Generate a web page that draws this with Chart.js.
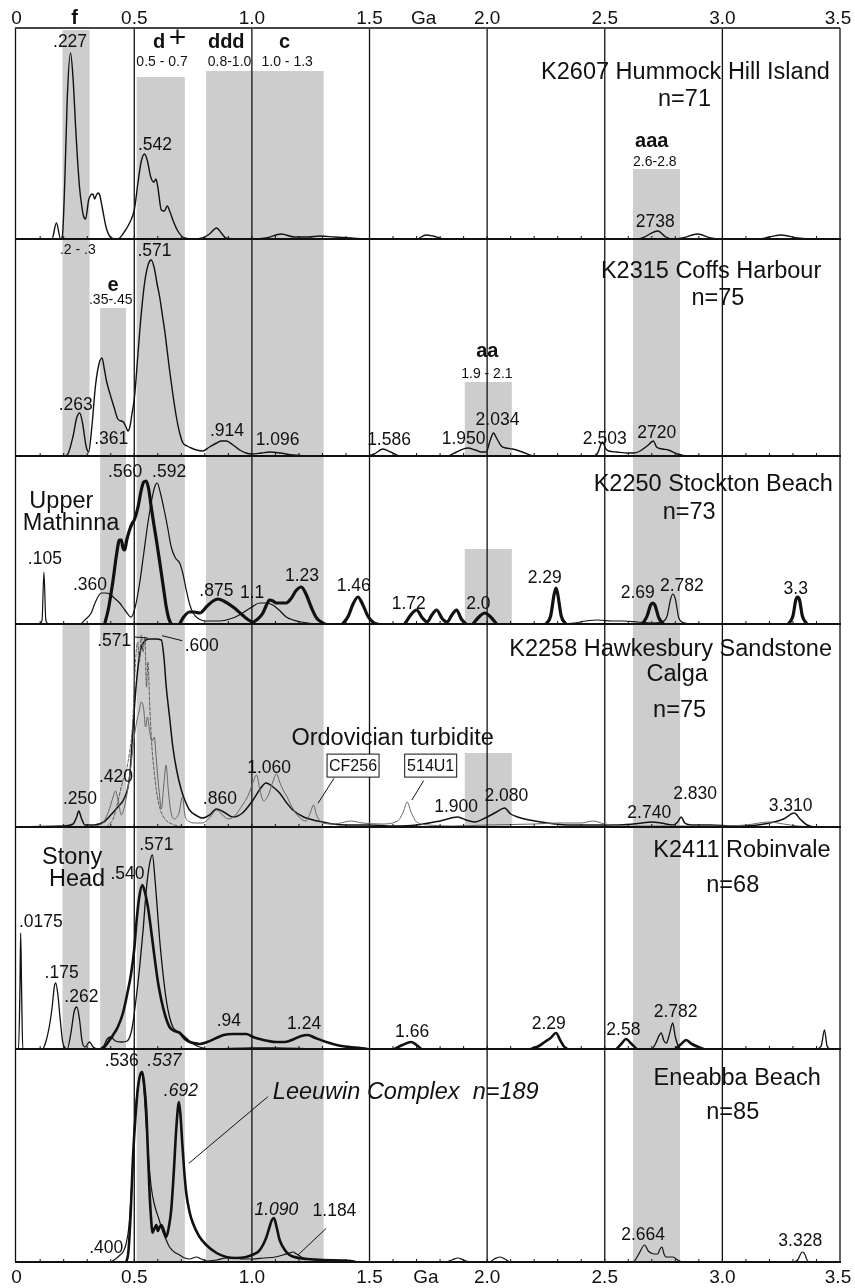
<!DOCTYPE html>
<html>
<head>
<meta charset="utf-8">
<script src="https://cdn.jsdelivr.net/npm/chart.js@4.4.1/dist/chart.umd.min.js"></script>
<style>
  html, body { margin: 0; padding: 0; background: #fff; }
  #wrap { width: 855px; height: 1288px; position: relative; }
</style>
</head>
<body>
<div id="wrap"><canvas id="agePlot" width="855" height="1288"></canvas></div>
<script>
// Age axis (Ga)
const ageTicks = [0, 0.5, 1.0, 1.5, 2.0, 2.5, 3.0, 3.5];
const ageTickLabels = ['0', '0.5', '1.0', '1.5', '2.0', '2.5', '3.0', '3.5'];
const ageUnit = 'Ga';

// Age groups (Ga) shown as grey bands
const bandRanges = {
    f: [0.195, 0.31],
    e: [0.355, 0.465],
    dPlus: [0.51, 0.715],
    ddd: [0.805, 1.0],
    c: [1.0, 1.305],
    aa: [1.905, 2.105],
    aaa: [2.62, 2.82]
};

// Probability curves, [age Ga, relative probability], null = break in line
const hummockHill = [[0,0],[0.15,0],[0.169,16],[0.187,0],[0.194,2],[0.205,60],[0.215,140],[0.229,186],[0.24,160],[0.25,115],[0.258,82],[0.268,50],[0.275,36],[0.283,24],[0.293,20],[0.306,39],[0.315,44],[0.324,45],[0.332,40],[0.339,44],[0.347,46],[0.353,44],[0.365,30],[0.38,12],[0.398,2],[0.42,0],[0.438,1],[0.46,8],[0.48,16],[0.5,29],[0.515,55],[0.53,78],[0.544,85],[0.556,78],[0.57,62],[0.584,57],[0.592,60],[0.60,52],[0.615,29],[0.628,28],[0.64,33],[0.652,27],[0.664,19],[0.685,8],[0.714,1],[0.75,0],[0.79,1],[0.82,5],[0.85,11],[0.87,6],[0.89,1],[0.95,0],[1.0,0],[1.06,1],[1.125,5],[1.18,2],[1.24,2],[1.29,3],[1.35,2],[1.42,1],[1.5,0],[1.7,0],[1.74,4],[1.77,3],[1.82,0],[2.64,0],[2.66,1],[2.725,8],[2.76,2],[2.79,0],[2.83,1],[2.895,5],[2.95,1],[2.99,0],[3.15,0],[3.2,2],[3.25,4],[3.32,1],[3.38,0],[3.5,0]];

const coffsHarbour = [[0,0],[0.2,0],[0.215,1],[0.24,20],[0.255,38],[0.268,43],[0.28,33],[0.295,10],[0.306,4],[0.32,30],[0.335,70],[0.35,92],[0.363,98],[0.372,88],[0.381,76],[0.392,66],[0.402,58],[0.415,48],[0.43,37],[0.445,35],[0.454,34],[0.465,29],[0.473,25],[0.482,30],[0.49,42],[0.501,59],[0.515,100],[0.53,143],[0.545,175],[0.56,192],[0.572,196],[0.585,188],[0.597,172],[0.608,159],[0.62,140],[0.629,126],[0.64,105],[0.65,86],[0.665,60],[0.679,39],[0.693,23],[0.707,13],[0.725,10],[0.742,8],[0.765,6],[0.79,5],[0.82,9],[0.85,13],[0.87,15],[0.891,15],[0.92,11],[0.948,6],[0.975,3],[1.0,2],[1.04,3],[1.075,4],[1.12,3],[1.175,1],[1.25,0],[1.49,0],[1.52,2],[1.556,7],[1.59,4],[1.63,0],[1.83,0],[1.87,4],[1.917,8],[1.95,6],[1.975,4],[1.996,4],[2.012,15],[2.027,23],[2.04,18],[2.06,10],[2.08,8],[2.108,7],[2.15,4],[2.2,0],[2.45,0],[2.47,3],[2.49,14],[2.505,7],[2.517,5],[2.55,4],[2.6,3],[2.626,3],[2.65,5],[2.68,10],[2.707,15],[2.72,9],[2.745,7],[2.77,6],[2.81,2],[2.85,0],[3.5,0]];

const stocktonBeach = [[0,0],[0.095,0],[0.108,4],[0.116,52],[0.124,4],[0.135,0],[0.27,0],[0.29,4],[0.317,11],[0.335,22],[0.36,31],[0.38,31],[0.395,30],[0.415,26],[0.438,21],[0.46,14],[0.487,7],[0.505,18],[0.523,41],[0.54,70],[0.558,101],[0.575,125],[0.588,138],[0.598,141],[0.61,132],[0.629,112],[0.643,95],[0.657,77],[0.675,66],[0.693,61],[0.707,50],[0.721,34],[0.735,20],[0.75,11],[0.775,5],[0.806,3],[0.86,3],[0.919,6],[0.96,11],[1.0,17],[1.033,21],[1.06,21],[1.089,19],[1.12,13],[1.146,7],[1.21,2],[1.3,0],[2.3,0],[2.37,1],[2.42,3],[2.47,4],[2.53,3],[2.58,3],[2.64,2],[2.7,1],[2.74,2],[2.765,8],[2.78,25],[2.79,30],[2.8,25],[2.815,6],[2.84,1],[2.88,0],[3.5,0]];

const upperMathinna = [[0.374,0],[0.39,15],[0.41,44],[0.425,70],[0.437,84],[0.445,84],[0.452,76],[0.459,74],[0.468,84],[0.48,94],[0.49,100],[0.50,104],[0.516,117],[0.528,132],[0.54,142],[0.551,143],[0.562,134],[0.572,117],[0.583,100],[0.594,84],[0.605,67],[0.615,51],[0.626,33],[0.636,17],[0.646,6],[0.657,0], null,
    [0.693,0],[0.71,7],[0.735,12],[0.755,12],[0.778,11],[0.81,18],[0.835,23],[0.856,25],[0.88,23],[0.92,17],[0.955,10],[0.98,5],[1.005,2],[1.025,5],[1.047,11],[1.062,19],[1.075,24],[1.09,23],[1.104,21],[1.125,21],[1.146,21],[1.165,25],[1.19,34],[1.21,37],[1.23,30],[1.252,17],[1.275,6],[1.302,1],[1.31,0], null,
    [1.386,0],[1.41,8],[1.43,20],[1.451,27],[1.47,20],[1.495,7],[1.52,1],[1.535,0], null,
    [1.65,0],[1.675,9],[1.70,14],[1.725,6],[1.745,2],[1.765,9],[1.785,14],[1.81,5],[1.83,2],[1.85,9],[1.87,14],[1.89,5],[1.91,0], null,
    [1.94,0],[1.965,7],[1.99,11],[2.015,7],[2.04,0], null,
    [2.25,0],[2.27,8],[2.285,30],[2.293,36],[2.30,30],[2.315,8],[2.335,0], null,
    [2.66,0],[2.68,8],[2.695,19],[2.704,21],[2.713,19],[2.73,6],[2.75,0], null,
    [3.28,0],[3.30,8],[3.312,24],[3.32,27],[3.328,24],[3.34,8],[3.36,0]];

const hawkesbury = [[0,0],[0.2,1],[0.24,3],[0.255,10],[0.264,16],[0.275,9],[0.29,2],[0.33,2],[0.37,5],[0.40,12],[0.43,20],[0.46,30],[0.48,50],[0.495,100],[0.509,144],[0.525,175],[0.545,186],[0.565,188],[0.59,188],[0.615,187],[0.626,170],[0.636,140],[0.65,110],[0.664,80],[0.68,57],[0.70,37],[0.718,25],[0.735,17],[0.76,12],[0.79,9],[0.82,12],[0.849,18],[0.88,15],[0.919,10],[0.96,14],[1.005,27],[1.035,38],[1.06,44],[1.09,40],[1.118,34],[1.145,25],[1.174,17],[1.22,10],[1.26,7],[1.3,5],[1.345,3],[1.4,2],[1.5,2],[1.6,1],[1.7,2],[1.8,6],[1.875,10],[1.91,7],[1.946,5],[2.0,10],[2.04,15],[2.074,19],[2.1,13],[2.13,10],[2.18,7],[2.23,5],[2.29,3],[2.34,2],[2.45,2],[2.55,2],[2.62,3],[2.66,4],[2.697,5],[2.74,4],[2.79,2],[2.81,5],[2.825,10],[2.84,4],[2.87,2],[2.95,2],[3.05,1],[3.15,2],[3.22,5],[3.26,8],[3.306,14],[3.33,8],[3.36,2],[3.4,0],[3.5,0]];

const ordovicianTurbidite = [[0.30,0],[0.36,3],[0.39,15],[0.41,30],[0.42,36],[0.432,26],[0.445,12],[0.46,22],[0.475,42],[0.49,70],[0.50,90],[0.51,105],[0.52,115],[0.53,125],[0.54,118],[0.548,100],[0.556,110],[0.565,96],[0.575,86],[0.585,90],[0.593,70],[0.60,50],[0.608,30],[0.615,18],[0.625,40],[0.635,62],[0.645,36],[0.655,16],[0.67,8],[0.69,14],[0.705,30],[0.715,12],[0.73,6],[0.76,4],[0.79,4],[0.82,9],[0.85,17],[0.875,12],[0.9,8],[0.93,12],[0.96,22],[0.985,32],[1.005,45],[1.02,52],[1.035,36],[1.05,26],[1.07,32],[1.09,46],[1.105,53],[1.118,45],[1.135,36],[1.15,30],[1.17,20],[1.2,10],[1.23,6],[1.248,14],[1.262,22],[1.275,12],[1.3,4],[1.35,3],[1.42,6],[1.47,4],[1.55,3],[1.62,6],[1.645,16],[1.66,25],[1.675,16],[1.70,5],[1.75,2],[1.85,1],[2.0,2],[2.2,3],[2.3,4],[2.4,4],[2.45,6],[2.5,3],[2.6,1],[2.8,1],[3.0,1],[3.1,2],[3.2,5],[3.26,3],[3.32,1],[3.4,0]];

const ordovicianSpike = [[0.38,0],[0.41,8],[0.43,25],[0.45,45],[0.465,55],[0.48,75],[0.492,100],[0.50,140],[0.508,175],[0.515,185],[0.522,165],[0.53,192],[0.537,175],[0.545,190],[0.552,140],[0.558,165],[0.566,120],[0.575,80],[0.585,55],[0.595,35],[0.61,18],[0.63,8],[0.66,3],[0.70,0]];

const robinvale = [[0,0],[0.008,0],[0.014,60],[0.017,116],[0.021,60],[0.026,0],[0.11,0],[0.125,8],[0.14,24],[0.15,40],[0.16,62],[0.166,66],[0.175,55],[0.185,30],[0.195,8],[0.205,1],[0.215,0],[0.23,15],[0.245,38],[0.256,42],[0.267,30],[0.278,8],[0.29,2],[0.31,7],[0.325,2],[0.345,0],[0.37,3],[0.385,10],[0.40,12],[0.42,8],[0.445,7],[0.47,8],[0.49,20],[0.505,45],[0.523,82],[0.538,120],[0.551,159],[0.565,185],[0.577,194],[0.588,170],[0.598,140],[0.608,109],[0.62,80],[0.636,49],[0.65,32],[0.664,22],[0.68,18],[0.693,17],[0.707,14],[0.721,11],[0.75,5],[0.778,2],[0.82,0],[1.0,1],[1.1,1],[1.3,0],[2.7,0],[2.715,5],[2.74,16],[2.752,8],[2.762,6],[2.775,15],[2.789,26],[2.80,12],[2.815,2],[2.83,0],[3.4,0],[3.42,3],[3.434,19],[3.445,3],[3.46,0],[3.5,0]];

const stonyHead = [[0.366,0],[0.38,4],[0.395,9],[0.41,14],[0.43,22],[0.452,36],[0.47,55],[0.487,76],[0.50,100],[0.509,126],[0.52,150],[0.534,164],[0.545,157],[0.558,142],[0.572,118],[0.586,92],[0.60,68],[0.615,49],[0.632,33],[0.65,22],[0.67,18],[0.693,16],[0.715,10],[0.735,7],[0.755,6],[0.778,5],[0.81,7],[0.849,11],[0.88,14],[0.919,15],[0.95,15],[0.976,15],[1.005,12],[1.033,10],[1.07,8],[1.104,7],[1.14,7],[1.18,10],[1.21,13],[1.238,14],[1.27,11],[1.316,7],[1.36,4],[1.415,2],[1.46,1],[1.49,0], null,
    [1.606,0],[1.64,4],[1.677,7],[1.70,4],[1.72,0], null,
    [2.187,0],[2.22,3],[2.245,7],[2.27,11],[2.293,16],[2.31,9],[2.325,3],[2.34,0], null,
    [2.55,0],[2.57,5],[2.591,10],[2.61,6],[2.635,0], null,
    [2.80,0],[2.825,5],[2.846,9],[2.87,5],[2.92,0]];

const eneabba = [[0,0],[0.395,0],[0.42,3],[0.44,7],[0.452,10],[0.465,18],[0.477,35],[0.487,69],[0.495,105],[0.50,135],[0.51,165],[0.52,183],[0.53,190],[0.54,175],[0.551,135],[0.562,100],[0.572,75],[0.585,58],[0.606,42],[0.62,31],[0.636,22],[0.65,15],[0.67,10],[0.693,7],[0.715,4],[0.735,3],[0.764,5],[0.785,3],[0.807,1],[0.85,2],[0.891,4],[0.93,4],[0.96,3],[1.0,3],[1.05,4],[1.1,5],[1.132,7],[1.16,9],[1.174,10],[1.19,8],[1.21,5],[1.231,3],[1.27,2],[1.305,1],[1.4,0],[1.82,0],[1.85,2],[1.876,4],[1.90,2],[1.93,0],[2.01,0],[2.03,3],[2.053,5],[2.075,3],[2.1,0],[2.61,0],[2.626,1],[2.645,8],[2.669,17],[2.685,11],[2.697,9],[2.71,8],[2.725,8],[2.735,13],[2.743,15],[2.752,8],[2.76,5],[2.775,5],[2.79,5],[2.81,2],[2.83,0],[3.3,0],[3.32,2],[3.335,9],[3.342,10],[3.35,8],[3.36,2],[3.37,0],[3.5,0]];

const leeuwin = [[0.466,0],[0.475,10],[0.485,50],[0.494,102],[0.505,145],[0.516,175],[0.525,187],[0.534,190],[0.542,178],[0.551,152],[0.558,110],[0.565,69],[0.571,45],[0.577,29],[0.585,33],[0.594,37],[0.60,31],[0.608,35],[0.615,37],[0.625,32],[0.636,25],[0.647,35],[0.657,52],[0.668,90],[0.679,135],[0.69,160],[0.697,145],[0.704,119],[0.712,92],[0.721,69],[0.735,50],[0.749,39],[0.775,26],[0.806,17],[0.85,9],[0.891,5],[0.93,4],[0.976,5],[1.01,8],[1.03,11],[1.047,17],[1.062,25],[1.075,35],[1.085,42],[1.094,44],[1.105,35],[1.118,22],[1.14,12],[1.16,7],[1.2,4],[1.235,3],[1.3,2],[1.42,1],[1.44,0]];

// ---- layout / style ----
const FONT = '"Liberation Sans", Arial, Helvetica, sans-serif';
const panelHeights = [211, 217, 168, 203, 222, 213];

const series = [
    { data: hummockHill, panel: 1, width: 1.4 },
    { data: coffsHarbour, panel: 2, width: 1.4 },
    { data: stocktonBeach, panel: 3, width: 1.2 },
    { data: upperMathinna, panel: 3, width: 3.2 },
    { data: ordovicianTurbidite, panel: 4, width: 1, color: '#666' },
    { data: ordovicianSpike, panel: 4, width: 1, color: '#555', dash: [3, 2] },
    { data: hawkesbury, panel: 4, width: 1.5 },
    { data: robinvale, panel: 5, width: 1.3 },
    { data: stonyHead, panel: 5, width: 2.6 },
    { data: eneabba, panel: 6, width: 1.2 },
    { data: leeuwin, panel: 6, width: 2.6 }
];

// grey bands per panel: [group, top] (no top = full height)
const bandsByPanel = [
    [['f', 209], ['dPlus', 162], ['ddd', 168], ['c', 168], ['aaa', 70]],
    [['f'], ['e', 148], ['dPlus'], ['ddd'], ['c'], ['aa', 74], ['aaa']],
    [['e'], ['dPlus'], ['ddd'], ['c'], ['aa', 75], ['aaa']],
    [['f'], ['e'], ['dPlus'], ['ddd'], ['c'], ['aa', 74], ['aaa']],
    [['f'], ['e'], ['dPlus'], ['ddd'], ['c'], ['aaa']],
    [['dPlus'], ['ddd'], ['c'], ['aaa']]
];

const fonts = {
    lab: '17.5px ' + FONT,
    ital: 'italic 17.5px ' + FONT,
    range: '14px ' + FONT,
    band: 'bold 20px ' + FONT,
    plus: '30px ' + FONT,
    title: '23.5px ' + FONT,
    ititle: 'italic 23.5px ' + FONT,
    axis: '19px ' + FONT,
    box: '16px ' + FONT
};

// text notes: [panel, age, height, text, font, align]
const notes = [
    [1, 0.246, 220.5, 'f', 'band'],
    [1, 0.606, 197, 'd', 'band'],
    [1, 0.684, 200, '+', 'plus'],
    [1, 0.618, 177.3, '0.5 - 0.7', 'range'],
    [1, 0.891, 197, 'ddd', 'band'],
    [1, 0.905, 177, '0.8-1.0', 'range'],
    [1, 1.139, 197, 'c', 'band'],
    [1, 1.15, 177, '1.0 - 1.3', 'range'],
    [1, 0.227, 196.7, '.227', 'lab'],
    [1, 0.588, 94, '.542', 'lab'],
    [1, 2.843, 166.5, 'K2607 Hummock Hill Island', 'title'],
    [1, 2.839, 139, 'n=71', 'title'],
    [1, 2.70, 98, 'aaa', 'band'],
    [1, 2.713, 77.3, '2.6-2.8', 'range'],
    [1, 2.715, 17.3, '2738', 'lab'],

    [2, 0.26, 206, '.2 - .3', 'range'],
    [2, 0.41, 171, 'e', 'band'],
    [2, 0.40, 156, '.35-.45', 'range'],
    [2, 0.586, 205.2, '.571', 'lab'],
    [2, 0.251, 51, '.263', 'lab'],
    [2, 0.402, 17, '.361', 'lab'],
    [2, 0.894, 25, '.914', 'lab'],
    [2, 1.109, 16.3, '1.096', 'lab'],
    [2, 1.583, 16.3, '1.586', 'lab'],
    [2, 2.952, 184.7, 'K2315 Coffs Harbour', 'title'],
    [2, 2.981, 157.5, 'n=75', 'title'],
    [2, 2.001, 104.3, 'aa', 'band'],
    [2, 1.999, 82.2, '1.9 - 2.1', 'range'],
    [2, 2.044, 36.3, '2.034', 'lab'],
    [2, 1.90, 17.2, '1.950', 'lab'],
    [2, 2.50, 17, '2.503', 'lab'],
    [2, 2.721, 23, '2720', 'lab'],

    [3, 0.19, 122.3, 'Upper', 'title'],
    [3, 0.231, 100.7, 'Mathinna', 'title'],
    [3, 0.12, 64.8, '.105', 'lab'],
    [3, 0.312, 39.3, '.360', 'lab'],
    [3, 0.461, 151.5, '.560', 'lab'],
    [3, 0.648, 151.5, '.592', 'lab'],
    [3, 0.849, 32.7, '.875', 'lab'],
    [3, 1.001, 31, '1.1', 'lab'],
    [3, 1.213, 48.2, '1.23', 'lab'],
    [3, 1.433, 37.7, '1.46', 'lab'],
    [3, 1.667, 19.5, '1.72', 'lab'],
    [3, 1.963, 19.5, '2.0', 'lab'],
    [3, 2.245, 46.2, '2.29', 'lab'],
    [3, 2.64, 31, '2.69', 'lab'],
    [3, 2.828, 38.2, '2.782', 'lab'],
    [3, 3.312, 35.2, '3.3', 'lab'],
    [3, 2.961, 139, 'K2250 Stockton Beach', 'title'],
    [3, 2.859, 111.5, 'n=73', 'title'],

    [4, 0.415, 186.2, '.571', 'lab'],
    [4, 0.787, 181.2, '.600', 'lab'],
    [4, 0.422, 49.5, '.420', 'lab'],
    [4, 0.269, 27.8, '.250', 'lab'],
    [4, 0.864, 28, '.860', 'lab'],
    [4, 1.073, 59.2, '1.060', 'lab'],
    [4, 1.168, 88.7, 'Ordovician turbidite', 'title', 'left'],
    [4, 1.868, 19.5, '1.900', 'lab'],
    [4, 2.082, 31.2, '2.080', 'lab'],
    [4, 2.689, 14, '2.740', 'lab'],
    [4, 2.884, 32.8, '2.830', 'lab'],
    [4, 3.29, 21.2, '3.310', 'lab'],
    [4, 2.78, 177, 'K2258 Hawkesbury Sandstone', 'title'],
    [4, 2.808, 152, 'Calga', 'title'],
    [4, 2.818, 116.2, 'n=75', 'title'],

    [5, 0.236, 191.5, 'Stony', 'title'],
    [5, 0.257, 169, 'Head', 'title'],
    [5, 0.471, 174.8, '.540', 'lab'],
    [5, 0.594, 204, '.571', 'lab'],
    [5, 0.103, 126.8, '.0175', 'lab'],
    [5, 0.191, 76, '.175', 'lab'],
    [5, 0.275, 52, '.262', 'lab'],
    [5, 0.902, 27.8, '.94', 'lab'],
    [5, 1.222, 24.5, '1.24', 'lab'],
    [5, 1.681, 16.5, '1.66', 'lab'],
    [5, 2.262, 24.5, '2.29', 'lab'],
    [5, 2.579, 19.3, '2.58', 'lab'],
    [5, 2.801, 37.3, '2.782', 'lab'],
    [5, 3.083, 198.2, 'K2411 Robinvale', 'title'],
    [5, 3.044, 163.5, 'n=68', 'title'],

    [6, 0.447, 201.2, '.536', 'lab'],
    [6, 0.628, 201.2, '.537', 'ital'],
    [6, 0.698, 171.2, '.692', 'ital'],
    [6, 1.089, 169.5, 'Leeuwin Complex  n=189', 'ititle', 'left'],
    [6, 0.381, 14.2, '.400', 'lab'],
    [6, 1.104, 52, '1.090', 'ital'],
    [6, 1.351, 50.8, '1.184', 'lab'],
    [6, 2.663, 27, '2.664', 'lab'],
    [6, 3.331, 21.2, '3.328', 'lab'],
    [6, 3.063, 183.7, 'Eneabba Beach', 'title'],
    [6, 3.044, 149.5, 'n=85', 'title']
];

// leader lines: [panel, age1, h1, age2, h2]
const leaders = [
    [4, 0.501, 190, 0.558, 189],
    [4, 0.704, 186.3, 0.618, 191.3],
    [4, 1.349, 48.7, 1.281, 23.7],
    [4, 1.73, 46.3, 1.68, 27],
    [6, 1.068, 165.3, 0.732, 98.7],
    [6, 1.316, 33.7, 1.196, 7]
];

// boxed sample names: [panel, age, height, text]
const boxes = [
    [4, 1.43, 61.4, 'CF256'],
    [4, 1.76, 61.4, '514U1']
];

function toPoints(arr) {
    const out = [];
    arr.forEach(function(p, i) {
        if (p === null) out.push({ x: arr[i - 1][0], y: null });
        else out.push({ x: p[0], y: p[1] });
    });
    return out;
}

const panelDecor = {
    id: 'panelDecor',
    beforeDatasetsDraw(chart) {
        const ctx = chart.ctx;
        const xs = chart.scales.x;
        const area = chart.chartArea;
        ctx.save();
        // grey age bands
        ctx.fillStyle = '#cdcdcd';
        bandsByPanel.forEach(function(list, i) {
            const ys = chart.scales['p' + (i + 1)];
            list.forEach(function(b) {
                const r = bandRanges[b[0]];
                const x0 = xs.getPixelForValue(r[0]);
                const x1 = xs.getPixelForValue(r[1]);
                const yTop = ys.getPixelForValue(b[1] === undefined ? ys.max : b[1]);
                ctx.fillRect(x0, yTop, x1 - x0, ys.getPixelForValue(0) - yTop);
            });
        });
        // vertical age lines
        ctx.strokeStyle = '#111';
        ctx.lineWidth = 1.3;
        ageTicks.forEach(function(v) {
            if (v === 0) return;
            const px = xs.getPixelForValue(v);
            ctx.beginPath();
            ctx.moveTo(px, area.top);
            ctx.lineTo(px, area.bottom);
            ctx.stroke();
        });
        ctx.beginPath();
        ctx.moveTo(area.left + 0.5, area.top);
        ctx.lineTo(area.left + 0.5, area.bottom);
        ctx.stroke();
        ctx.restore();
    },
    afterDatasetsDraw(chart) {
        const ctx = chart.ctx;
        const xs = chart.scales.x;
        const area = chart.chartArea;
        const x3 = xs.getPixelForValue(3.5);
        ctx.save();
        // top axis line
        ctx.strokeStyle = '#444';
        ctx.lineWidth = 2;
        ctx.beginPath();
        ctx.moveTo(area.left, area.top);
        ctx.lineTo(x3, area.top);
        ctx.stroke();
        // panel baselines + minor ticks
        ctx.strokeStyle = '#111';
        for (let i = 1; i <= 6; i++) {
            const y0 = chart.scales['p' + i].getPixelForValue(0);
            ctx.lineWidth = 1.8;
            ctx.beginPath();
            ctx.moveTo(area.left, y0);
            ctx.lineTo(x3 + 1, y0);
            ctx.stroke();
            ctx.lineWidth = 1;
            for (let k = 1; k < 35; k++) {
                const px = xs.getPixelForValue(k / 10);
                ctx.beginPath();
                ctx.moveTo(px, y0 - 3);
                ctx.lineTo(px, y0 + 1);
                ctx.stroke();
            }
        }
        // axis labels top and bottom
        ctx.fillStyle = '#111';
        ctx.textAlign = 'center';
        ctx.textBaseline = 'middle';
        ctx.font = fonts.axis;
        const yTop = chart.scales.p1.getPixelForValue(220.5);
        const yBot = chart.scales.p6.getPixelForValue(-15.5);
        ageTicks.forEach(function(v, i) {
            const px = Math.min(xs.getPixelForValue(v), 838);
            ctx.fillText(ageTickLabels[i], px, yTop);
            ctx.fillText(ageTickLabels[i], px, yBot);
        });
        ctx.fillText(ageUnit, xs.getPixelForValue(1.73), yTop);
        ctx.fillText(ageUnit, xs.getPixelForValue(1.74), yBot);
        // notes
        notes.forEach(function(n) {
            const ys = chart.scales['p' + n[0]];
            ctx.font = fonts[n[4]];
            ctx.textAlign = n[5] || 'center';
            ctx.fillText(n[3], xs.getPixelForValue(n[1]), ys.getPixelForValue(n[2]));
        });
        // leader lines
        ctx.lineWidth = 1;
        leaders.forEach(function(l) {
            const ys = chart.scales['p' + l[0]];
            ctx.beginPath();
            ctx.moveTo(xs.getPixelForValue(l[1]), ys.getPixelForValue(l[2]));
            ctx.lineTo(xs.getPixelForValue(l[3]), ys.getPixelForValue(l[4]));
            ctx.stroke();
        });
        // boxed labels
        ctx.font = fonts.box;
        ctx.textAlign = 'center';
        boxes.forEach(function(b) {
            const ys = chart.scales['p' + b[0]];
            const cx = xs.getPixelForValue(b[1]);
            const cy = ys.getPixelForValue(b[2]);
            ctx.fillStyle = '#fff';
            ctx.fillRect(cx - 26, cy - 11.5, 52, 23);
            ctx.strokeRect(cx - 26, cy - 11.5, 52, 23);
            ctx.fillStyle = '#111';
            ctx.fillText(b[3], cx, cy + 1);
        });
        ctx.restore();
    }
};

document.addEventListener("DOMContentLoaded", function() {
    const scales = {
        x: { type: 'linear', min: -0.007, max: 3.5, display: false }
    };
    panelHeights.forEach(function(h, i) {
        scales['p' + (i + 1)] = {
            type: 'linear',
            position: 'right',
            stack: 'panels',
            stackWeight: h,
            min: 0,
            max: h,
            display: false
        };
    });

    const datasets = series.map(function(s) {
        return {
            data: toPoints(s.data),
            yAxisID: 'p' + s.panel,
            xAxisID: 'x',
            borderColor: s.color || '#111',
            borderWidth: s.width,
            borderDash: s.dash || [],
            pointRadius: 0,
            fill: false,
            cubicInterpolationMode: 'monotone',
            spanGaps: false
        };
    });

    new Chart(document.getElementById('agePlot'), {
        type: 'line',
        data: { datasets: datasets },
        options: {
            responsive: false,
            animation: false,
            layout: { padding: { top: 28, bottom: 26, left: 15, right: 15 } },
            plugins: {
                legend: { display: false },
                tooltip: { enabled: false }
            },
            elements: { line: { borderJoinStyle: 'round', borderCapStyle: 'round' } },
            scales: scales
        },
        plugins: [panelDecor]
    });
});
</script>
</body>
</html>
